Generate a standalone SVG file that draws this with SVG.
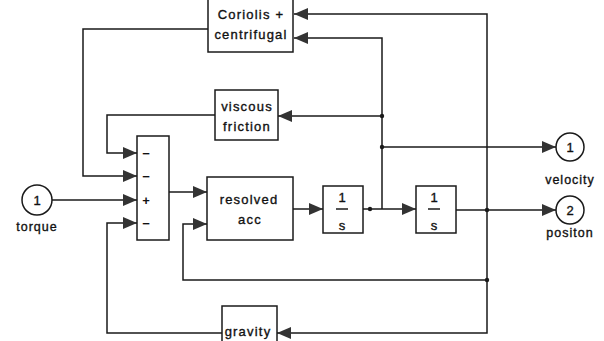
<svg xmlns="http://www.w3.org/2000/svg" width="604" height="341" viewBox="0 0 604 341">
<defs>
<style>
.blk{fill:#fff;stroke:#1a1a1a;stroke-width:1.5}
.port{fill:#fff;stroke:#1a1a1a;stroke-width:1.5}
.ln{fill:none;stroke:#1a1a1a;stroke-width:1.5}
.t{font-family:"Liberation Sans",Arial,sans-serif;font-size:13px;letter-spacing:1.2px;fill:#111;stroke:#111;stroke-width:0.35;text-anchor:middle}
.pl{font-family:"Liberation Sans",Arial,sans-serif;font-size:12.5px;letter-spacing:1px;fill:#111;stroke:#111;stroke-width:0.35;text-anchor:middle}
.num{font-family:"Liberation Sans",Arial,sans-serif;font-size:13px;fill:#111;stroke:#111;stroke-width:0.35;text-anchor:middle}
.sg{font-family:"Liberation Sans",Arial,sans-serif;font-size:13px;font-weight:bold;fill:#111;text-anchor:middle}
.dot{fill:#1a1a1a}
</style>
<marker id="ah" viewBox="0 0 14 12" refX="14" refY="6" markerWidth="14" markerHeight="12" markerUnits="userSpaceOnUse" orient="auto">
<path d="M0,0 L14,6 L0,12 Z" fill="#333"/>
</marker>
</defs>

<g id="connectors">
<path class="ln" d="M52,200 H137" marker-end="url(#ah)"/>
<path class="ln" d="M169,192 H207" marker-end="url(#ah)"/>
<path class="ln" d="M293,209 H323" marker-end="url(#ah)"/>
<path class="ln" d="M363,209 H416" marker-end="url(#ah)"/>
<path class="ln" d="M382,209 V38 H294" marker-end="url(#ah)"/>
<path class="ln" d="M382,116 H278" marker-end="url(#ah)"/>
<path class="ln" d="M382,147 H556" marker-end="url(#ah)"/>
<path class="ln" d="M456,210 H556" marker-end="url(#ah)"/>
<path class="ln" d="M487,210 V14 H294" marker-end="url(#ah)"/>
<path class="ln" d="M487,210 V333 H277" marker-end="url(#ah)"/>
<path class="ln" d="M487,280 H183 V224 H207" marker-end="url(#ah)"/>
<path class="ln" d="M208,29 H83 V176 H137" marker-end="url(#ah)"/>
<path class="ln" d="M215,115 H107 V153 H137" marker-end="url(#ah)"/>
<path class="ln" d="M222,333 H107 V223 H137" marker-end="url(#ah)"/>
<circle class="dot" cx="370" cy="209" r="2.2"/>
<circle class="dot" cx="382" cy="116" r="2.2"/>
<circle class="dot" cx="382" cy="147" r="2.2"/>
<circle class="dot" cx="487" cy="210" r="2.2"/>
<circle class="dot" cx="487" cy="280" r="2.2"/>
</g>

<g id="coriolis">
<rect class="blk" x="208" y="-2" width="85" height="54"/>
<text class="t" x="251" y="19">Coriolis +</text>
<text class="t" x="251" y="39">centrifugal</text>
</g>

<g id="viscous">
<rect class="blk" x="215" y="90" width="63" height="50"/>
<text class="t" x="247" y="111">viscous</text>
<text class="t" x="247" y="131">friction</text>
</g>

<g id="sum">
<rect class="blk" x="137" y="136" width="32" height="104"/>
<text class="sg" x="146" y="158">−</text>
<text class="sg" x="146" y="181">−</text>
<text class="sg" x="146" y="205">+</text>
<text class="sg" x="146" y="228">−</text>
</g>

<g id="resolved">
<rect class="blk" x="207" y="177" width="86" height="63"/>
<text class="t" x="249" y="204">resolved</text>
<text class="t" x="250" y="224">acc</text>
</g>

<g id="int1">
<rect class="blk" x="323" y="186" width="40" height="47"/>
<text class="num" x="342" y="202">1</text>
<line x1="336" y1="209" x2="348" y2="209" stroke="#1a1a1a" stroke-width="1.5"/>
<text class="num" x="342" y="230">s</text>
</g>

<g id="int2">
<rect class="blk" x="416" y="186" width="40" height="47"/>
<text class="num" x="434" y="202">1</text>
<line x1="428" y1="209" x2="440" y2="209" stroke="#1a1a1a" stroke-width="1.5"/>
<text class="num" x="434" y="230">s</text>
</g>

<g id="gravity">
<rect class="blk" x="222" y="306" width="55" height="40"/>
<text class="t" x="248" y="336">gravity</text>
</g>

<g id="torque">
<circle class="port" cx="37" cy="200" r="15"/>
<text class="num" x="37" y="205">1</text>
<text class="pl" x="37" y="231">torque</text>
</g>

<g id="velocity">
<circle class="port" cx="570" cy="147" r="14"/>
<text class="num" x="570" y="152">1</text>
<text class="pl" x="570" y="184">velocity</text>
</g>

<g id="position">
<circle class="port" cx="570" cy="210" r="14"/>
<text class="num" x="570" y="215">2</text>
<text class="pl" x="570" y="237">positon</text>
</g>
</svg>
